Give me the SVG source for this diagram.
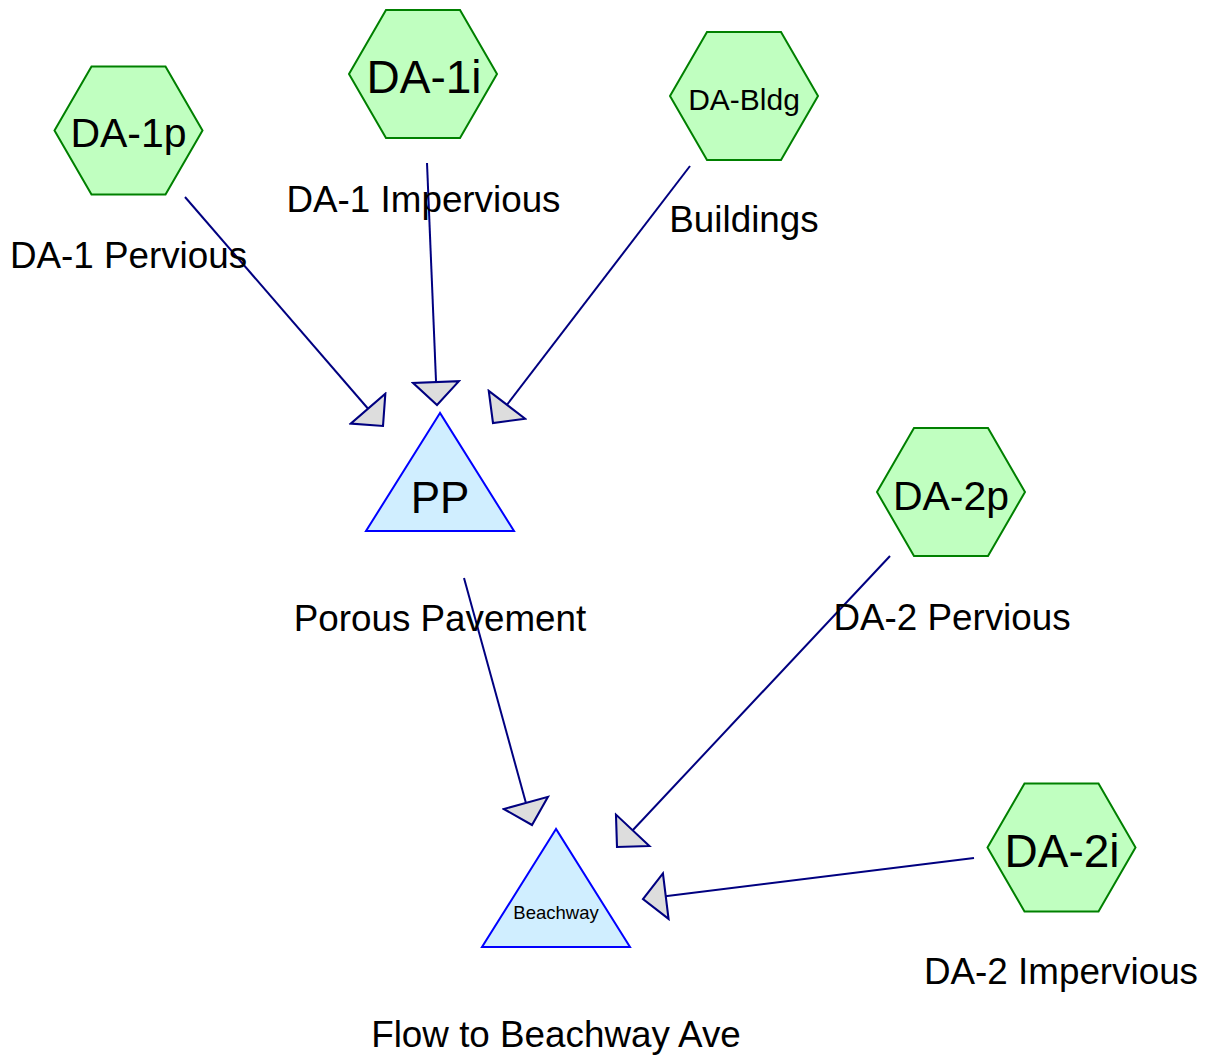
<svg xmlns="http://www.w3.org/2000/svg" width="1208" height="1057" viewBox="0 0 1208 1057">
<style>
.hex{fill:#c0ffc0;stroke:#008000;stroke-width:2}
.tri{fill:#d0eeff;stroke:#0000ff;stroke-width:2}
.edge{stroke:#000080;stroke-width:2;fill:none;marker-end:url(#ah)}
text{font-family:"Liberation Sans",Arial,sans-serif;fill:#000;text-anchor:middle}
.lbl{font-size:36.8px}
</style>
<defs>
<polygon id="hexshape" points="-74,0 -37,-64 37,-64 74,0 37,64 -37,64"/>
<marker id="ah" markerUnits="userSpaceOnUse" markerWidth="30" markerHeight="50" viewBox="-2 -24 28 48" refX="22" refY="0" orient="auto">
<path d="M0,-22 L22,0 L0,22 Z" fill="#dddddd" stroke="#000080" stroke-width="2" stroke-linejoin="miter"/>
</marker>
</defs>
<rect width="1208" height="1057" fill="#ffffff"/>
<g id="connectors">
<line class="edge" x1="185" y1="197" x2="383" y2="426"/>
<line class="edge" x1="427" y1="163" x2="437" y2="405"/>
<line class="edge" x1="690" y1="166" x2="493" y2="423"/>
<line class="edge" x1="464" y1="578" x2="532" y2="825"/>
<line class="edge" x1="890" y1="556" x2="617" y2="847"/>
<line class="edge" x1="974" y1="858" x2="643" y2="899"/>
</g>
<g id="DA-1p">
<use href="#hexshape" class="hex" transform="translate(128.5,130.5)"/>
<text x="128.5" y="147" font-size="41">DA-1p</text>
<text class="lbl" x="128.5" y="268">DA-1 Pervious</text>
</g>
<g id="DA-1i">
<use href="#hexshape" class="hex" transform="translate(423,74)"/>
<text x="424" y="93" font-size="46">DA-1i</text>
<text class="lbl" x="423.5" y="212">DA-1 Impervious</text>
</g>
<g id="DA-Bldg">
<use href="#hexshape" class="hex" transform="translate(744,96)"/>
<text x="744" y="110" font-size="30">DA-Bldg</text>
<text class="lbl" x="744" y="232">Buildings</text>
</g>
<g id="PP">
<polygon class="tri" points="440,413 366,531 514,531"/>
<text x="440" y="513" font-size="44">PP</text>
<text class="lbl" x="440" y="631">Porous Pavement</text>
</g>
<g id="DA-2p">
<use href="#hexshape" class="hex" transform="translate(951,492)"/>
<text x="951" y="510" font-size="41">DA-2p</text>
<text class="lbl" x="952" y="630">DA-2 Pervious</text>
</g>
<g id="DA-2i">
<use href="#hexshape" class="hex" transform="translate(1061.5,847.5)"/>
<text x="1062" y="867" font-size="46">DA-2i</text>
<text class="lbl" x="1061" y="984">DA-2 Impervious</text>
</g>
<g id="Beachway">
<polygon class="tri" points="556,829 482,947 630,947"/>
<text x="556" y="919" font-size="18.5">Beachway</text>
<text class="lbl" x="556" y="1047">Flow to Beachway Ave</text>
</g>
</svg>
